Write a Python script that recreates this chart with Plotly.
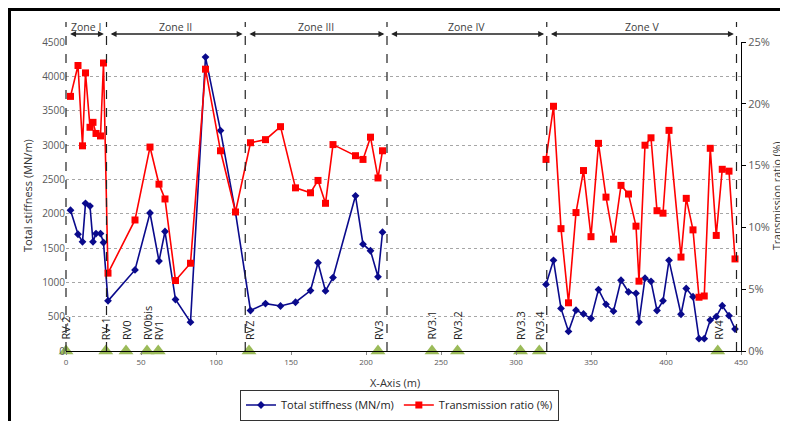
import plotly.graph_objects as go

# ---- data ----
x_pos = [3, 8, 11, 13, 16, 18, 20, 23, 25, 28,
         46, 56, 62, 66, 73, 83, 93, 103, 113, 123,
         133, 143, 153, 163, 168, 173, 178, 193, 198, 203, 208, 211,
         None,
         320, 325, 330, 335, 340, 345, 350, 355, 360, 365, 370, 375, 380, 382, 386,
         390, 394, 398, 402, 410, 413.5, 418, 422, 425.5, 429.5, 433.5, 437.5, 442, 446]

stiffness = [2050, 1700, 1590, 2150, 2110, 1590, 1710, 1710, 1580, 730,
             1180, 2010, 1310, 1740, 750, 420, 4280, 3210, 2020, 590,
             690, 655, 710, 880, 1285, 875, 1070, 2260, 1555, 1460, 1080, 1730,
             None,
             970, 1320, 620, 285, 595, 540, 475, 895, 680, 580, 1030, 860, 840, 420, 1060,
             1015, 590, 730, 1320, 535, 910, 790, 180, 180, 450, 500, 660, 515, 320]

transmission = [20.6, 23.1, 16.6, 22.5, 18.1, 18.5, 17.6, 17.4, 23.3, 6.3,
                10.6, 16.5, 13.5, 12.3, 5.7, 7.1, 22.8, 16.2, 11.25, 16.85,
                17.1, 18.15, 13.2, 12.8, 13.8, 11.95, 16.7, 15.8, 15.5, 17.3, 14.0, 16.2,
                None,
                15.5, 19.8, 9.9, 3.9, 11.2, 14.6, 9.25, 16.8, 12.45, 9.05, 13.4, 12.7, 10.1, 5.65, 16.65,
                17.25, 11.35, 11.15, 17.85, 7.6, 12.35, 9.8, 4.35, 4.45, 16.4, 9.35, 14.7, 14.55, 7.45]

rv_names = ["RV-2", "RV-1", "RV0", "RV0bis", "RV1", "RVZ", "RV3",
            "RV3.1", "RV3.2", "RV3.3", "RV3.4", "RV4"]
rv_x = [0, 26.5, 40, 54, 61.5, 122, 208, 244, 261, 303, 315.5, 434.5]

zone_names = ["Zone I", "Zone II", "Zone III", "Zone IV", "Zone V"]
zone_bounds = [0, 27, 119.5, 214, 320.5, 447]

X_MAX = 450
FONT = "Open Sans"
GRAY = "#595959"

# plot area in page pixels (page has an 8px body offset)
PL, PR, PT, PB = 66, 741, 42, 351
PW, PH = PR - PL, PB - PT


def px(xp):
    return (xp - PL) / PW


def py(yp):
    return (PB - yp) / PH


fig = go.Figure()

fig.add_trace(go.Scatter(
    x=x_pos, y=stiffness, name="Total stiffness (MN/m)", mode="lines+markers",
    line=dict(color="#0A0A8C", width=1.6),
    marker=dict(symbol="diamond", size=6, color="#0A0A8C"),
    connectgaps=False,
))
fig.add_trace(go.Scatter(
    x=x_pos, y=transmission, name="Transmission ratio (%)", mode="lines+markers",
    line=dict(color="#FF0000", width=1.6),
    marker=dict(symbol="square", size=7, color="#FF0000"),
    yaxis="y2", connectgaps=False,
))
fig.add_trace(go.Scatter(
    x=rv_x, y=[0] * len(rv_x), mode="markers", showlegend=False,
    marker=dict(symbol="triangle-up", size=13, color="#9BBB59"),
    cliponaxis=False, hoverinfo="skip",
))

shapes = []
annotations = []

# zone boundaries (dashed) and arrows
for b in zone_bounds:
    shapes.append(dict(type="line", xref="paper", yref="paper",
                       x0=b / X_MAX, x1=b / X_MAX, y0=0, y1=py(22),
                       line=dict(color="#222222", width=1.2, dash="dash"), layer="above"))

for i, name in enumerate(zone_names):
    a, b = zone_bounds[i], zone_bounds[i + 1]
    gap = 1.8
    annotations.append(dict(
        xref="x", yref="paper", axref="x", ayref="pixel",
        x=b - gap, y=py(34), ax=a + gap, ay=0,
        text="", showarrow=True, arrowhead=2, arrowside="end+start",
        arrowsize=0.9, arrowwidth=1.3, arrowcolor="#222222",
    ))
    annotations.append(dict(
        xref="paper", yref="paper", x=(a + b) / 2 / X_MAX, y=py(27),
        text=name, showarrow=False, yanchor="middle", xanchor="center",
        font=dict(family=FONT, size=10.5, color="#404040"),
    ))

# RV labels
for name, xv in zip(rv_names, rv_x):
    annotations.append(dict(
        x=xv, y=130, xref="x", yref="y", text=name, showarrow=False,
        textangle=-90, yanchor="bottom", xanchor="center",
        font=dict(family=FONT, size=11, color="#222222"),
    ))

# axis titles
annotations.append(dict(xref="paper", yref="paper", x=px(395), y=py(382),
                        text="X-Axis (m)", showarrow=False, xanchor="center", yanchor="middle",
                        font=dict(family=FONT, size=11, color="#333333")))
annotations.append(dict(xref="paper", yref="paper", x=px(27), y=py(196),
                        text="Total stiffness (MN/m)", showarrow=False, textangle=-90,
                        xanchor="center", yanchor="middle",
                        font=dict(family=FONT, size=11, color="#333333")))
annotations.append(dict(xref="paper", yref="paper", x=px(777), y=py(196),
                        text="Transmission ratio (%)", showarrow=False, textangle=-90,
                        xanchor="center", yanchor="middle",
                        font=dict(family=FONT, size=10.5, color="#333333")))

# outer border
shapes.append(dict(type="rect", xref="paper", yref="paper",
                   x0=px(9.5), x1=px(800), y0=py(440), y1=py(9.5),
                   line=dict(color="black", width=3)))

fig.update_layout(
    template="none",
    width=780, height=413,
    margin=dict(l=PL - 8, r=780 - (PR - 8), t=PT - 8, b=413 - (PB - 8), autoexpand=False),
    paper_bgcolor="white", plot_bgcolor="white",
    font=dict(family=FONT, color=GRAY),
    shapes=shapes, annotations=annotations,
    xaxis=dict(range=[0, X_MAX], dtick=50, showgrid=False, zeroline=False,
               showline=True, linecolor="black", linewidth=1.2, automargin=False,
               ticks="outside", ticklen=3, tickcolor="#888888",
               tickfont=dict(family=FONT, size=8, color=GRAY)),
    yaxis=dict(range=[0, 4500], dtick=500, showgrid=True, gridcolor="#A6A6A6",
               griddash="dot", gridwidth=1, zeroline=False, showline=False,
               automargin=False, ticks="",
               tickfont=dict(family=FONT, size=10, color=GRAY)),
    yaxis2=dict(range=[0, 25], dtick=5, ticksuffix="%", overlaying="y", side="right",
                showgrid=False, zeroline=False, showline=True, linecolor="black",
                linewidth=1, ticks="outside", ticklen=4, tickcolor="black",
                automargin=False,
                tickfont=dict(family=FONT, size=11, color=GRAY)),
    legend=dict(orientation="h", x=px(399.5), y=py(405),
                xanchor="center", yanchor="middle",
                bordercolor="#333333", borderwidth=1, bgcolor="white",
                font=dict(family=FONT, size=11, color="#222222")),
    showlegend=True,
)

fig.write_html("out.html")
